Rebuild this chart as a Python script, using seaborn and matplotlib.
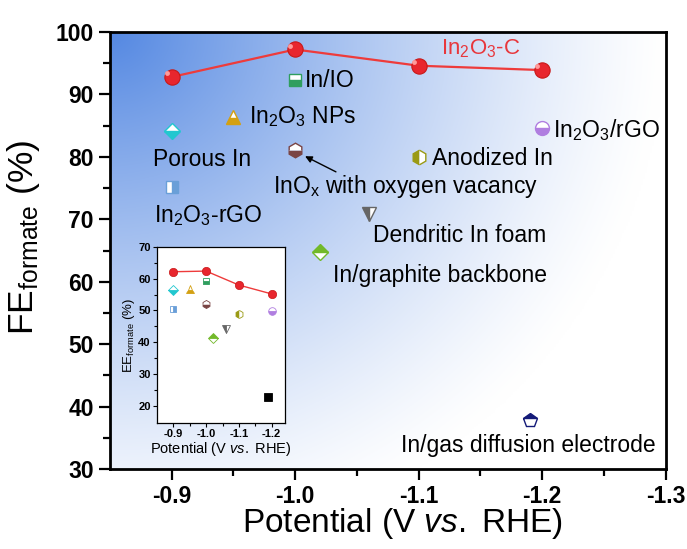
import numpy as np
import matplotlib
matplotlib.use("Agg")
import matplotlib.pyplot as plt
import seaborn as sns

# ---- data -------------------------------------------------------------
this_potential = [-0.90, -1.00, -1.10, -1.20]
this_fe = [92.8, 97.2, 94.6, 93.9]
this_ee = [62.2, 62.4, 58.0, 55.2]

ref_names = ["Porous In", "In$_2$O$_3$-rGO", "In$_2$O$_3$ NPs", "In/IO",
             "InO$_\\mathrm{x}$ with oxygen vacancy", "In/graphite backbone",
             "Dendritic In foam", "Anodized In", "In$_2$O$_3$/rGO",
             "In/gas diffusion electrode"]
ref_potential = [-0.90, -0.90, -0.95, -1.00, -1.00, -1.02, -1.06, -1.10, -1.20, -1.19]
ref_fe = [84.1, 75.2, 86.4, 92.3, 81.1, 64.7, 70.8, 80.0, 84.6, 37.8]
ref_ee = [56.4, 50.4, 56.6, 59.2, 52.0, 41.2, 44.2, 49.0, 49.8, 22.6]

x_ticks = [-0.9, -1.0, -1.1, -1.2, -1.3]
y_ticks = [30, 40, 50, 60, 70, 80, 90, 100]
inset_x_ticks = [-0.9, -1.0, -1.1, -1.2]
inset_y_ticks = [20, 30, 40, 50, 60, 70]

# ---- styles -----------------------------------------------------------
marker_styles = [
    dict(marker="D", color="#22c7cf", fillstyle="bottom", ms=8.5),
    dict(marker="s", color="#6a9fd8", fillstyle="right", ms=9),
    dict(marker="^", color="#d3a012", fillstyle="bottom", ms=10),
    dict(marker="s", color="#2f9e5e", fillstyle="bottom", ms=9),
    dict(marker="h", color="#7a4444", fillstyle="bottom", ms=10.5),
    dict(marker="D", color="#72b92a", fillstyle="top", ms=8.5),
    dict(marker="v", color="#666666", fillstyle="left", ms=10),
    dict(marker="h", color="#9a9a14", fillstyle="left", ms=10.5),
    dict(marker="o", color="#b07ee0", fillstyle="bottom", ms=10),
    dict(marker="p", color="#141a78", fillstyle="top", ms=10.5),
]
# label anchors (potential, FE) for each reference
label_pos = [(-0.885, 79.6), (-0.886, 70.6), (-0.963, 86.4), (-1.008, 92.3),
             (-0.982, 75.2), (-1.031, 61.0), (-1.063, 67.4), (-1.111, 79.8),
             (-1.209, 84.3), (-1.086, 33.8)]

sns.set_style("white")
plt.rcParams["font.family"] = ["Liberation Sans", "DejaVu Sans"]
plt.rcParams["mathtext.fontset"] = "custom"
plt.rcParams["mathtext.rm"] = "Liberation Sans"
plt.rcParams["mathtext.it"] = "Liberation Sans:italic"
plt.rcParams["mathtext.bf"] = "Liberation Sans:bold"
plt.rcParams["axes.unicode_minus"] = False
for key in ["text.color", "axes.labelcolor", "xtick.color", "ytick.color"]:
    plt.rcParams[key] = "black"

fig = plt.figure(figsize=(6.87, 5.49), dpi=100)
ax = fig.add_axes([0.160, 0.1457, 0.809, 0.796])

# soft blue glow spreading from the upper-left corner of the plotting area
u = np.linspace(0, 1, 300)[None, :]
v = np.linspace(0, 1, 300)[:, None]
r = np.sqrt((u / 1.0) ** 2 + (v / 1.2) ** 2)
t = np.clip(1 - r, 0, 1) ** 1.25
blue = np.array([84, 136, 226]) / 255.0
img = 1 - t[..., None] * (1 - blue)
ax.imshow(img, extent=(0, 1, 0, 1), transform=ax.transAxes, aspect="auto",
          zorder=0, origin="upper")

# this work
sns.lineplot(x=this_potential, y=this_fe, ax=ax, color="#ee3b3b", lw=1.6,
             marker="o", markersize=11, markerfacecolor="#e8262e",
             markeredgecolor="#c81818", markeredgewidth=0.8, zorder=4)
ax.plot(np.array(this_potential) + 0.004, np.array(this_fe) + 0.6, "o",
        ms=3.5, color="#ff9a9a", mec="none", zorder=5)
ax.text(-1.150, 97.4, "In$_2$O$_3$-C", color="#e8373c", fontsize=16,
        ha="center", va="center", zorder=6)

# literature values
for name, px, fe, st, (lx, ly) in zip(ref_names, ref_potential, ref_fe,
                                       marker_styles, label_pos):
    ax.plot([px], [fe], linestyle="", marker=st["marker"], ms=st["ms"],
            color=st["color"], fillstyle=st["fillstyle"],
            markerfacecoloralt="white", markeredgecolor=st["color"],
            markeredgewidth=1.0, zorder=5)
    ax.text(lx, ly, name, fontsize=16.5, ha="left", va="center", zorder=6)

ax.annotate("", xy=(-1.006, 80.3), xytext=(-1.035, 77.4),
            arrowprops=dict(arrowstyle="-|>", color="black", lw=1.0,
                            mutation_scale=10), zorder=6)

ax.set_xlim(-0.85, -1.30)
ax.set_ylim(30, 100)
ax.set_xticks(x_ticks)
ax.set_yticks(y_ticks)
ax.set_xticks([-0.95, -1.05, -1.15, -1.25], minor=True)
ax.set_yticks(np.arange(35, 100, 10), minor=True)
ax.tick_params(which="both", direction="out", left=True, bottom=True,
               right=False, top=False, width=1.6)
ax.tick_params(which="major", length=8, labelsize=16.5)
ax.tick_params(which="minor", length=5)
for lab in ax.get_xticklabels() + ax.get_yticklabels():
    lab.set_fontweight("bold")
for sp in ax.spines.values():
    sp.set_linewidth(2.0)
    sp.set_color("black")
ax.set_xlabel("Potential (V $\\it{vs.}$ RHE)", fontsize=24)
ax.xaxis.set_label_coords(0.527, -0.085)
ax.set_ylabel("FE$_{\\rm formate}$ (%)", fontsize=25.5)
ax.yaxis.set_label_coords(-0.122, 0.53)

# ---- inset: energy efficiency ----------------------------------------
ins = fig.add_axes([0.2285, 0.2295, 0.186, 0.3206])
ins.set_facecolor("white")
sns.lineplot(x=this_potential, y=this_ee, ax=ins, color="#ee3b3b", lw=1.0,
             marker="o", markersize=6, markerfacecolor="#e8262e",
             markeredgecolor="#c81818", markeredgewidth=0.5, zorder=4)
for px, ee, st in zip(ref_potential, ref_ee, marker_styles):
    c = st["color"]
    fs = st["fillstyle"]
    mk = st["marker"]
    if mk == "p":
        c, fs, mk = "black", "full", "s"
    ins.plot([px], [ee], linestyle="", marker=mk, ms=st["ms"] * 0.55,
             color=c, fillstyle=fs, markerfacecoloralt="white",
             markeredgecolor=c, markeredgewidth=0.6, zorder=5)
ins.set_xlim(-0.85, -1.24)
ins.set_ylim(14.5, 70)
ins.set_xticks(inset_x_ticks)
ins.set_yticks(inset_y_ticks)
ins.set_xticks([-0.95, -1.05, -1.15], minor=True)
ins.set_yticks(np.arange(25, 70, 10), minor=True)
ins.tick_params(which="both", direction="out", left=True, bottom=True,
                right=False, top=False, width=0.8)
ins.tick_params(which="major", length=3, labelsize=8, pad=1.5)
ins.tick_params(which="minor", length=2)
for lab in ins.get_xticklabels() + ins.get_yticklabels():
    lab.set_fontweight("bold")
for sp in ins.spines.values():
    sp.set_linewidth(0.9)
    sp.set_color("black")
ins.set_xlabel("Potential (V $\\it{vs.}$ RHE)", fontsize=10.5, labelpad=0.5)
ins.set_ylabel("EE$_{\\rm formate}$ (%)", fontsize=9.5, labelpad=1)

fig.savefig("out.png", dpi=100)
